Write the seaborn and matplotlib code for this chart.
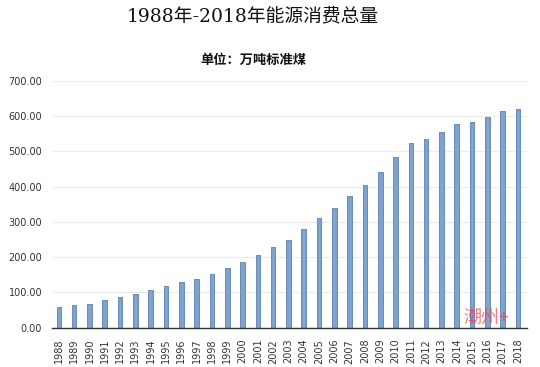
import numpy as np
import pandas as pd
import matplotlib
matplotlib.use("Agg")
import matplotlib.pyplot as plt
import seaborn as sns

# ── data ──────────────────────────────────────────────────
years = [str(y) for y in range(1988, 2019)]
energy = [58.6, 64, 67, 78, 86, 94.5, 106, 119, 128.5, 139,
          153, 169, 186, 206, 228, 249, 280, 311, 339, 373,
          404, 440, 484, 523, 534, 555, 576, 582, 598, 614, 620]
yticks = [0, 100, 200, 300, 400, 500, 600, 700]

df = pd.DataFrame({"year": years, "energy": energy})

sns.set_theme(style="white")
plt.rcParams["font.family"] = ["DejaVu Sans", "Noto Sans CJK SC"]

fig = plt.figure(figsize=(5.4, 3.67), dpi=100)
ax = fig.add_axes([0.096, 0.107, 0.880, 0.673])

sns.barplot(data=df, x="year", y="energy", color="#7fa3cf", width=0.3,
            edgecolor="#5b80b0", linewidth=0.6, saturation=1, ax=ax)

ax.set_ylim(0, 700)
ax.set_yticks(yticks)
ax.set_yticklabels([f"{v:.2f}" for v in yticks], fontsize=7, color="#333333")
ax.tick_params(axis="x", labelrotation=90, labelsize=7, colors="#333333", pad=2)
ax.tick_params(axis="y", pad=7, length=0)
ax.set_xlabel("")
ax.set_ylabel("")
ax.set_xlim(-0.46, len(years) - 0.41)
ax.grid(axis="y", color="#ececec", linewidth=0.8)
ax.set_axisbelow(True)
for s in ["top", "right", "left"]:
    ax.spines[s].set_visible(False)
ax.spines["bottom"].set_color("#333333")
ax.spines["bottom"].set_linewidth(1.0)

fig.text(0.469, 0.955, "1988年-2018年能源消费总量", ha="center", va="center",
         fontsize=13.5, family=["DejaVu Serif", "Noto Sans CJK SC"], color="#111111")
fig.text(0.47, 0.836, "单位：万吨标准煤", ha="center", va="center",
         fontsize=9.5, fontweight="bold", family=["Noto Sans CJK SC"], color="#111111")

# watermark in the lower right corner
fig.text(0.90, 0.135, "潮州+", ha="center", va="center", fontsize=13,
         family=["Noto Sans CJK SC"], color="#e8404a", alpha=0.7)

plt.savefig("out.png", dpi=100)
plt.close()
